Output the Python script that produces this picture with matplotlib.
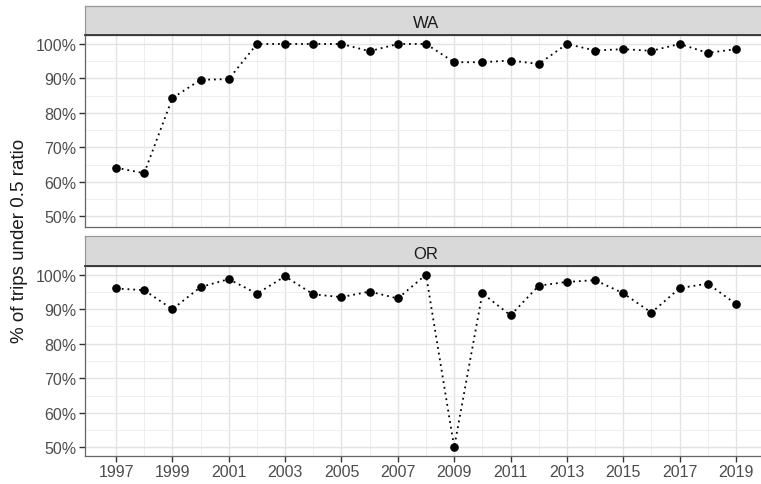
import matplotlib
matplotlib.use("Agg")
import matplotlib.pyplot as plt
from matplotlib.ticker import FixedLocator, FuncFormatter

years = list(range(1997, 2020))
wa_pct = [64.1, 62.5, 84.3, 89.6, 89.8, 100.0, 100.0, 100.0, 100.0, 97.9, 100.0, 100.0,
          94.7, 94.7, 95.2, 94.2, 100.0, 98.1, 98.5, 98.0, 100.0, 97.4, 98.5]
or_pct = [96.0, 95.5, 90.0, 96.4, 98.7, 94.5, 99.5, 94.3, 93.5, 95.1, 93.1, 100.0,
          50.0, 94.6, 88.2, 96.8, 97.9, 98.4, 94.6, 89.0, 96.1, 97.4, 91.5]
panels = ["WA", "OR"]
series = [wa_pct, or_pct]
y_ticks = [50, 60, 70, 80, 90, 100]
y_minor = [55, 65, 75, 85, 95]
x_ticks = list(range(1997, 2020, 2))
x_minor = list(range(1998, 2020, 2))

W, H = 761, 485
plt.rcParams["font.family"] = ["Liberation Sans", "DejaVu Sans"]
fig = plt.figure(figsize=(W / 100, H / 100), dpi=100)
fig.patch.set_facecolor("white")

def fx(px):
    return px / W

def fy(py):
    return 1 - py / H

left_px, right_px = 85, 767
# (strip top, strip bottom / panel top, panel bottom) in pixels
rows = [(7, 36, 228), (237, 267, 457)]
ylims = [(46.9, 102.6), (47.5, 102.5)]

for i, (name, vals) in enumerate(zip(panels, series)):
    s_top, p_top, p_bot = rows[i]
    ax = fig.add_axes([fx(left_px), fy(p_bot), fx(right_px - left_px), (p_bot - p_top) / H])
    ax.set_xlim(1995.9, 2020.1)
    ax.set_ylim(*ylims[i])
    ax.yaxis.set_major_locator(FixedLocator(y_ticks))
    ax.yaxis.set_minor_locator(FixedLocator(y_minor))
    ax.xaxis.set_major_locator(FixedLocator(x_ticks))
    ax.xaxis.set_minor_locator(FixedLocator(x_minor))
    ax.yaxis.set_major_formatter(FuncFormatter(lambda v, p: f"{int(v)}%"))
    ax.grid(which="major", color="#e3e3e3", linewidth=1.0)
    ax.grid(which="minor", color="#eeeeee", linewidth=0.7)
    ax.set_axisbelow(True)
    for sp in ax.spines.values():
        sp.set_color("#666666")
        sp.set_linewidth(0.9)
    ax.tick_params(axis="both", which="major", length=4, width=1.0, color="#333333",
                   labelcolor="#4d4d4d", labelsize=11.5, pad=2)
    ax.tick_params(axis="both", which="minor", length=0)
    if i == 0:
        ax.tick_params(axis="x", which="major", labelbottom=False, length=0)
    ax.plot(years, vals, linestyle=(0, (1, 2.2)), color="black", linewidth=1.3,
            marker="o", markersize=5.2, markerfacecolor="black", markeredgecolor="black",
            zorder=3)

    # facet strip
    sax = fig.add_axes([fx(left_px), fy(p_top), fx(right_px - left_px), (p_top - s_top) / H])
    sax.set_facecolor("#d9d9d9")
    sax.set_xticks([])
    sax.set_yticks([])
    for k, sp in sax.spines.items():
        sp.set_color("#999999")
        sp.set_linewidth(0.9)
    sax.spines["bottom"].set_color("#333333")
    sax.spines["bottom"].set_linewidth(1.3)
    # center label on the full panel range (panel extends past the figure edge)
    sax.text(0.5, 0.42, name, transform=sax.transAxes, ha="center", va="center",
             fontsize=12, color="#1a1a1a")

fig.text(fx(20), fy(241), "% of trips under 0.5 ratio", rotation=90,
         ha="center", va="center", fontsize=13.5, color="#1a1a1a")

fig.savefig("out.png", dpi=100, facecolor="white")
